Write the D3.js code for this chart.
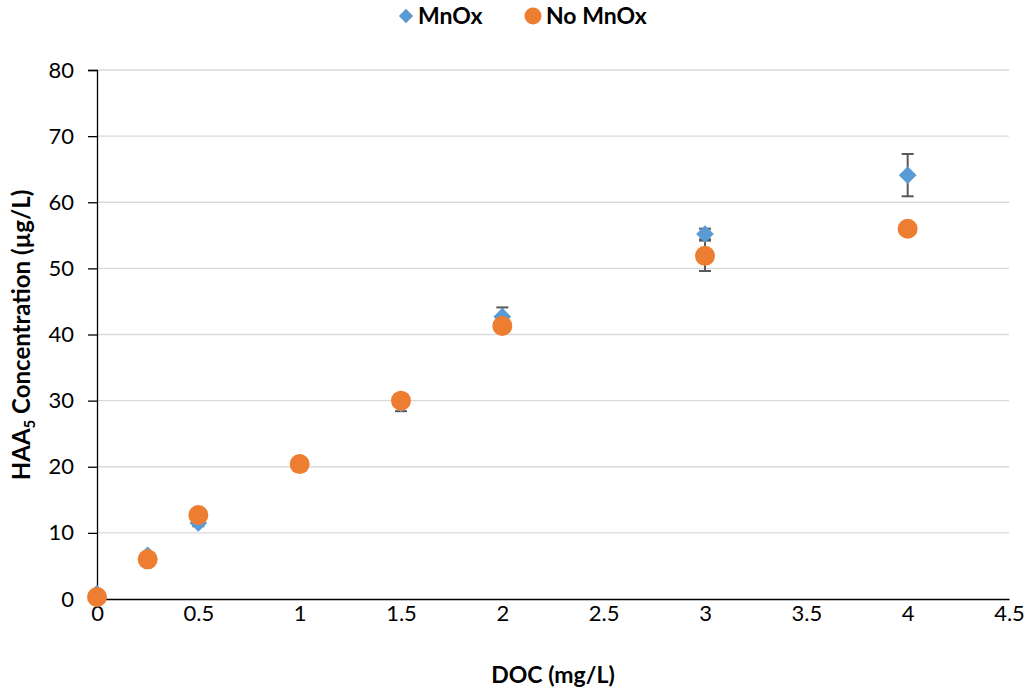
<!DOCTYPE html>
<html>
<head>
<script src="https://d3js.org/d3.v7.min.js"></script>
<style>
  body { margin: 0; background: #fff; overflow: hidden; }
  svg { font-family: Lato, "Open Sans", sans-serif; display: block; }
  .tick text { font-size: 22px; fill: #000; }
  .axis-title { font-size: 23px; font-weight: bold; }
</style>
</head>
<body>
<svg id="chart" width="1032" height="693"></svg>
<script>
// DOC (mg/L)
const doc = [0, 0.25, 0.5, 1, 1.5, 2, 3, 4];
// HAA5 concentration (ug/L)
const mnox = [0.8, 6.6, 11.5, 20.5, 29.6, 42.7, 55.2, 64.1];
const mnoxErr = [0.3, 0.4, 0.5, 0.5, 1.2, 1.4, 0.8, 3.2];
const noMnox = [0.3, 6.0, 12.7, 20.4, 30.0, 41.3, 51.9, 56.0];
const noMnoxErr = [0.2, 0.3, 0.4, 0.5, 0.5, 0.8, 2.3, 0.6];
const xTicks = [0, 0.5, 1, 1.5, 2, 2.5, 3, 3.5, 4, 4.5];
const yTicks = [0, 10, 20, 30, 40, 50, 60, 70, 80];

const svg = d3.select('#chart');
const margin = { top: 70, right: 23, bottom: 94, left: 97 };
const innerWidth = 1032 - margin.left - margin.right;
const innerHeight = 693 - margin.top - margin.bottom;

const x = d3.scaleLinear().domain([0, 4.5]).range([0, innerWidth]);
const y = d3.scaleLinear().domain([0, 80]).range([innerHeight, 0]);

const g = svg.append('g').attr('transform', `translate(${margin.left},${margin.top})`);

// gridlines
g.append('g').selectAll('line').data(yTicks.slice(1)).enter().append('line')
  .attr('x1', 0).attr('x2', innerWidth)
  .attr('y1', d => y(d)).attr('y2', d => y(d))
  .attr('stroke', '#d9d9d9').attr('stroke-width', 1.3);

// axes
const yAxis = g.append('g').call(d3.axisLeft(y).tickValues(yTicks).tickSize(9).tickPadding(14))
  .attr('font-family', null).attr('font-size', null);
yAxis.select('.domain').attr('stroke', '#000').attr('stroke-width', 1.3);
yAxis.selectAll('.tick line').attr('stroke', '#000').attr('stroke-width', 1.3);

const xAxis = g.append('g').attr('transform', `translate(0,${innerHeight})`)
  .call(d3.axisBottom(x).tickValues(xTicks).tickSize(0).tickPadding(6).tickFormat(d3.format('')))
  .attr('font-family', null).attr('font-size', null);
xAxis.select('.domain').attr('stroke', '#000').attr('stroke-width', 1.3);

// error bars
function errorBars(vals, errs) {
  const eg = g.append('g').attr('stroke', '#595959').attr('stroke-width', 2);
  doc.forEach((d, i) => {
    const cx = x(d), lo = y(vals[i] - errs[i]), hi = y(vals[i] + errs[i]);
    eg.append('line').attr('x1', cx).attr('x2', cx).attr('y1', lo).attr('y2', hi);
    eg.append('line').attr('x1', cx - 6).attr('x2', cx + 6).attr('y1', lo).attr('y2', lo);
    eg.append('line').attr('x1', cx - 6).attr('x2', cx + 6).attr('y1', hi).attr('y2', hi);
  });
}
errorBars(mnox, mnoxErr);
errorBars(noMnox, noMnoxErr);

// markers
const diamond = d3.symbol().type(d3.symbolDiamond2).size(200);
g.append('g').selectAll('path').data(doc).enter().append('path')
  .attr('d', diamond)
  .attr('transform', (d, i) => `translate(${x(d)},${y(mnox[i])})`)
  .attr('fill', '#5b9bd5');

g.append('g').selectAll('circle').data(doc).enter().append('circle')
  .attr('cx', d => x(d)).attr('cy', (d, i) => y(noMnox[i])).attr('r', 10)
  .attr('fill', '#ed7d31');

// axis titles
svg.append('text').attr('class', 'axis-title').attr('text-anchor', 'middle')
  .attr('x', 553).attr('y', 683).text('DOC (mg/L)');

const yt = svg.append('text').attr('class', 'axis-title').attr('text-anchor', 'middle')
  .style('font-size', '24px')
  .attr('transform', 'translate(30,335) rotate(-90)');
yt.append('tspan').text('HAA');
yt.append('tspan').style('font-size', '15px').attr('dy', 5).text('5');
yt.append('tspan').attr('dy', -5).text(' Concentration (µg/L)');

// legend
const legend = svg.append('g').attr('font-size', '23px').attr('font-weight', 'bold');
legend.append('path').attr('d', d3.symbol().type(d3.symbolDiamond2).size(130))
  .attr('transform', 'translate(406,16)').attr('fill', '#5b9bd5');
legend.append('text').attr('x', 418).attr('y', 24).text('MnOx');
legend.append('circle').attr('cx', 533).attr('cy', 16).attr('r', 8.5).attr('fill', '#ed7d31');
legend.append('text').attr('x', 546).attr('y', 24).text('No MnOx');
</script>
</body>
</html>
